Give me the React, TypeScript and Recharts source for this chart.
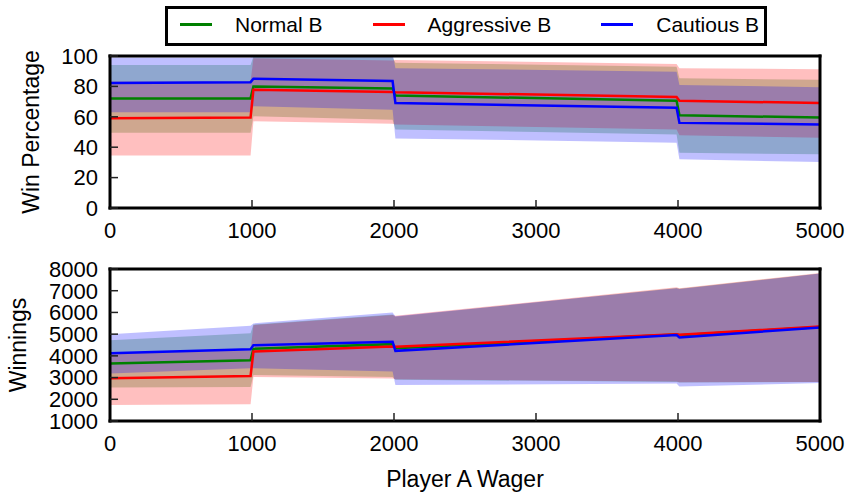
import React from 'react';
import {
  ComposedChart,
  Area,
  Line,
  XAxis,
  YAxis,
  Legend,
  Label,
} from 'recharts';

// wager sample points (step changes happen just around 1000, 2000 and 4000)
const wagers = [0, 990, 1010, 1990, 2010, 3990, 4010, 5000];
const xTicks = [0, 1000, 2000, 3000, 4000, 5000];

// win percentage, mean and band (low / high)
const normalWin = [72.1, 72.1, 80, 78.6, 74, 70.6, 61, 59.5];
const normalWinLow = [49.5, 49.5, 60.3, 58, 51.6, 48.4, 36.4, 35.3];
const normalWinHigh = [94, 94, 99.7, 99.2, 95.6, 93, 85.4, 84.3];

const aggressiveWin = [59, 59.5, 77.8, 76.3, 76.2, 73, 70.6, 69];
const aggressiveWinLow = [34.6, 34.6, 57, 55.5, 55, 51.6, 47.9, 46.2];
const aggressiveWinHigh = [83.2, 83.2, 98.6, 97, 97.4, 94.8, 92, 91.3];

const cautiousWin = [82.2, 82.8, 85, 83.5, 69, 66, 56, 55];
const cautiousWinLow = [63, 63, 67, 64.7, 45.8, 43, 32, 30.3];
const cautiousWinHigh = [99, 99, 103, 102, 92, 89.7, 81, 79.5];

const winTicks = [0, 20, 40, 60, 80, 100];

// winnings, mean and band (low / high)
const normalMoney = [3650, 3800, 4323, 4540, 4350, 4980, 4950, 5330];
const normalMoneyLow = [2540, 2570, 3123, 3030, 2900, 2800, 2770, 2800];
const normalMoneyHigh = [4724, 5046, 5440, 5900, 5800, 7130, 7090, 7790];

const aggressiveMoney = [2970, 3077, 4200, 4430, 4415, 5000, 4970, 5355];
const aggressiveMoneyLow = [1740, 1770, 3030, 2957, 2924, 2815, 2780, 2800];
const aggressiveMoneyHigh = [4110, 4262, 5415, 5877, 5845, 7154, 7110, 7815];

const cautiousMoney = [4124, 4308, 4493, 4646, 4230, 4955, 4848, 5310];
const cautiousMoneyLow = [3186, 3430, 3430, 3280, 2660, 2725, 2590, 2750];
const cautiousMoneyHigh = [5000, 5385, 5494, 6000, 5820, 7110, 7080, 7790];

const moneyTicks = [1000, 2000, 3000, 4000, 5000, 6000, 7000, 8000];

const series = [
  { key: 'normal', name: 'Normal B', color: '#008000' },
  { key: 'aggressive', name: 'Aggressive B', color: '#ff0000' },
  { key: 'cautious', name: 'Cautious B', color: '#0000ff' },
];

const winRows = wagers.map((x, i) => ({
  x,
  normal: normalWin[i],
  aggressive: aggressiveWin[i],
  cautious: cautiousWin[i],
  normalBand: [normalWinLow[i], normalWinHigh[i]],
  aggressiveBand: [aggressiveWinLow[i], aggressiveWinHigh[i]],
  cautiousBand: [cautiousWinLow[i], cautiousWinHigh[i]],
}));

const moneyRows = wagers.map((x, i) => ({
  x,
  normal: normalMoney[i],
  aggressive: aggressiveMoney[i],
  cautious: cautiousMoney[i],
  normalBand: [normalMoneyLow[i], normalMoneyHigh[i]],
  aggressiveBand: [aggressiveMoneyLow[i], aggressiveMoneyHigh[i]],
  cautiousBand: [cautiousMoneyLow[i], cautiousMoneyHigh[i]],
}));

const FONT = '"Liberation Sans", Arial, sans-serif';
const border = { stroke: '#000', strokeWidth: 3, strokeLinecap: 'square' as const };
const tickLine = { stroke: '#222', strokeWidth: 1.5 };
const tickFont = { fontSize: 22, fill: '#000' };

const LegendBox = (props: any) => {
  const payload = props.payload || [];
  // keep the plotting order, not the alphabetical one
  const items = series
    .map((s) => payload.find((p: any) => p.dataKey === s.key))
    .filter(Boolean);
  return (
    <div
      style={{
        boxSizing: 'border-box',
        width: 602,
        height: 40,
        border: '3px solid #000',
        background: '#fff',
        display: 'flex',
        alignItems: 'center',
        paddingLeft: 12,
        paddingBottom: 3,
        fontSize: 21,
        fontFamily: FONT,
        whiteSpace: 'nowrap',
      }}
    >
      {items.map((entry: any, i: number) => (
        <div
          key={`leg-${i}`}
          style={{ display: 'flex', alignItems: 'center', marginRight: 50, flexShrink: 0 }}
        >
          <div style={{ width: 32, height: 3, background: entry.color, marginRight: 23 }} />
          <span>{entry.value}</span>
        </div>
      ))}
    </div>
  );
};

interface PanelProps {
  rows: any[];
  domain: [number, number];
  yTicks: number[];
  height: number;
  margin: { top: number; right: number; bottom: number; left: number };
  yTitle: string;
  yTitleX: number;
  yTitleY: number;
  xTitle?: boolean;
  legend?: boolean;
}

const Panel = (props: PanelProps) => {
  const { rows, domain, yTicks, height, margin, yTitle, yTitleX, yTitleY, xTitle, legend } = props;
  return (
    <ComposedChart width={849} height={height} data={rows} margin={margin}>
      <XAxis
        dataKey="x"
        type="number"
        domain={[0, 5000]}
        ticks={xTicks}
        interval={0}
        height={30}
        tickSize={-8}
        tickMargin={22}
        tick={tickFont}
        tickLine={tickLine}
        axisLine={border}
      >
        {xTitle && (
          <Label
            content={() => (
              <text x={465} y={237} textAnchor="middle" fontSize={23} fill="#000">
                Player A Wager
              </text>
            )}
          />
        )}
      </XAxis>
      <XAxis
        xAxisId="top"
        orientation="top"
        type="number"
        domain={[0, 5000]}
        ticks={xTicks}
        interval={0}
        height={10}
        tickSize={-8}
        tick={false}
        tickLine={tickLine}
        axisLine={border}
      />
      <YAxis
        type="number"
        domain={domain}
        ticks={yTicks}
        interval={0}
        allowDataOverflow
        width={60}
        tickSize={-8}
        tickMargin={20}
        tick={tickFont}
        tickLine={tickLine}
        axisLine={border}
      >
        <Label
          content={() => (
            <text
              x={yTitleX}
              y={yTitleY}
              transform={`rotate(-90 ${yTitleX} ${yTitleY})`}
              textAnchor="middle"
              fontSize={23}
              fill="#000"
            >
              {yTitle}
            </text>
          )}
        />
      </YAxis>
      <YAxis
        yAxisId="right"
        orientation="right"
        type="number"
        domain={domain}
        ticks={yTicks}
        interval={0}
        width={10}
        tickSize={-8}
        tick={false}
        tickLine={tickLine}
        axisLine={border}
      />
      {series.map((s) => (
        <Area
          key={`band-${s.key}`}
          type="linear"
          dataKey={`${s.key}Band`}
          stroke="none"
          fill={s.color}
          fillOpacity={0.25}
          legendType="none"
          activeDot={false}
          isAnimationActive={false}
        />
      ))}
      {series.map((s) => (
        <Line
          key={`line-${s.key}`}
          type="linear"
          dataKey={s.key}
          name={s.name}
          stroke={s.color}
          strokeWidth={2.5}
          dot={false}
          activeDot={false}
          isAnimationActive={false}
        />
      ))}
      {legend && (
        <Legend
          layout="vertical"
          verticalAlign="middle"
          align="center"
          content={LegendBox}
          wrapperStyle={{ position: 'absolute', top: 6, left: 165, width: 602, height: 40 }}
        />
      )}
    </ComposedChart>
  );
};

export default function App() {
  return (
    <div
      style={{
        position: 'absolute',
        left: 0,
        top: 0,
        width: 849,
        height: 493,
        background: '#fff',
        fontFamily: FONT,
      }}
    >
      <div style={{ position: 'absolute', left: 0, top: 0 }}>
        <Panel
          rows={winRows}
          domain={[0, 100]}
          yTicks={winTicks}
          height={250}
          margin={{ top: 46, right: 19, bottom: 12, left: 50 }}
          yTitle="Win Percentage"
          yTitleX={39}
          yTitleY={132}
          legend
        />
      </div>
      <div style={{ position: 'absolute', left: 0, top: 250 }}>
        <Panel
          rows={moneyRows}
          domain={[1000, 8000]}
          yTicks={moneyTicks}
          height={243}
          margin={{ top: 9, right: 19, bottom: 42, left: 50 }}
          yTitle="Winnings"
          yTitleX={26}
          yTitleY={95}
          xTitle
        />
      </div>
    </div>
  );
}
